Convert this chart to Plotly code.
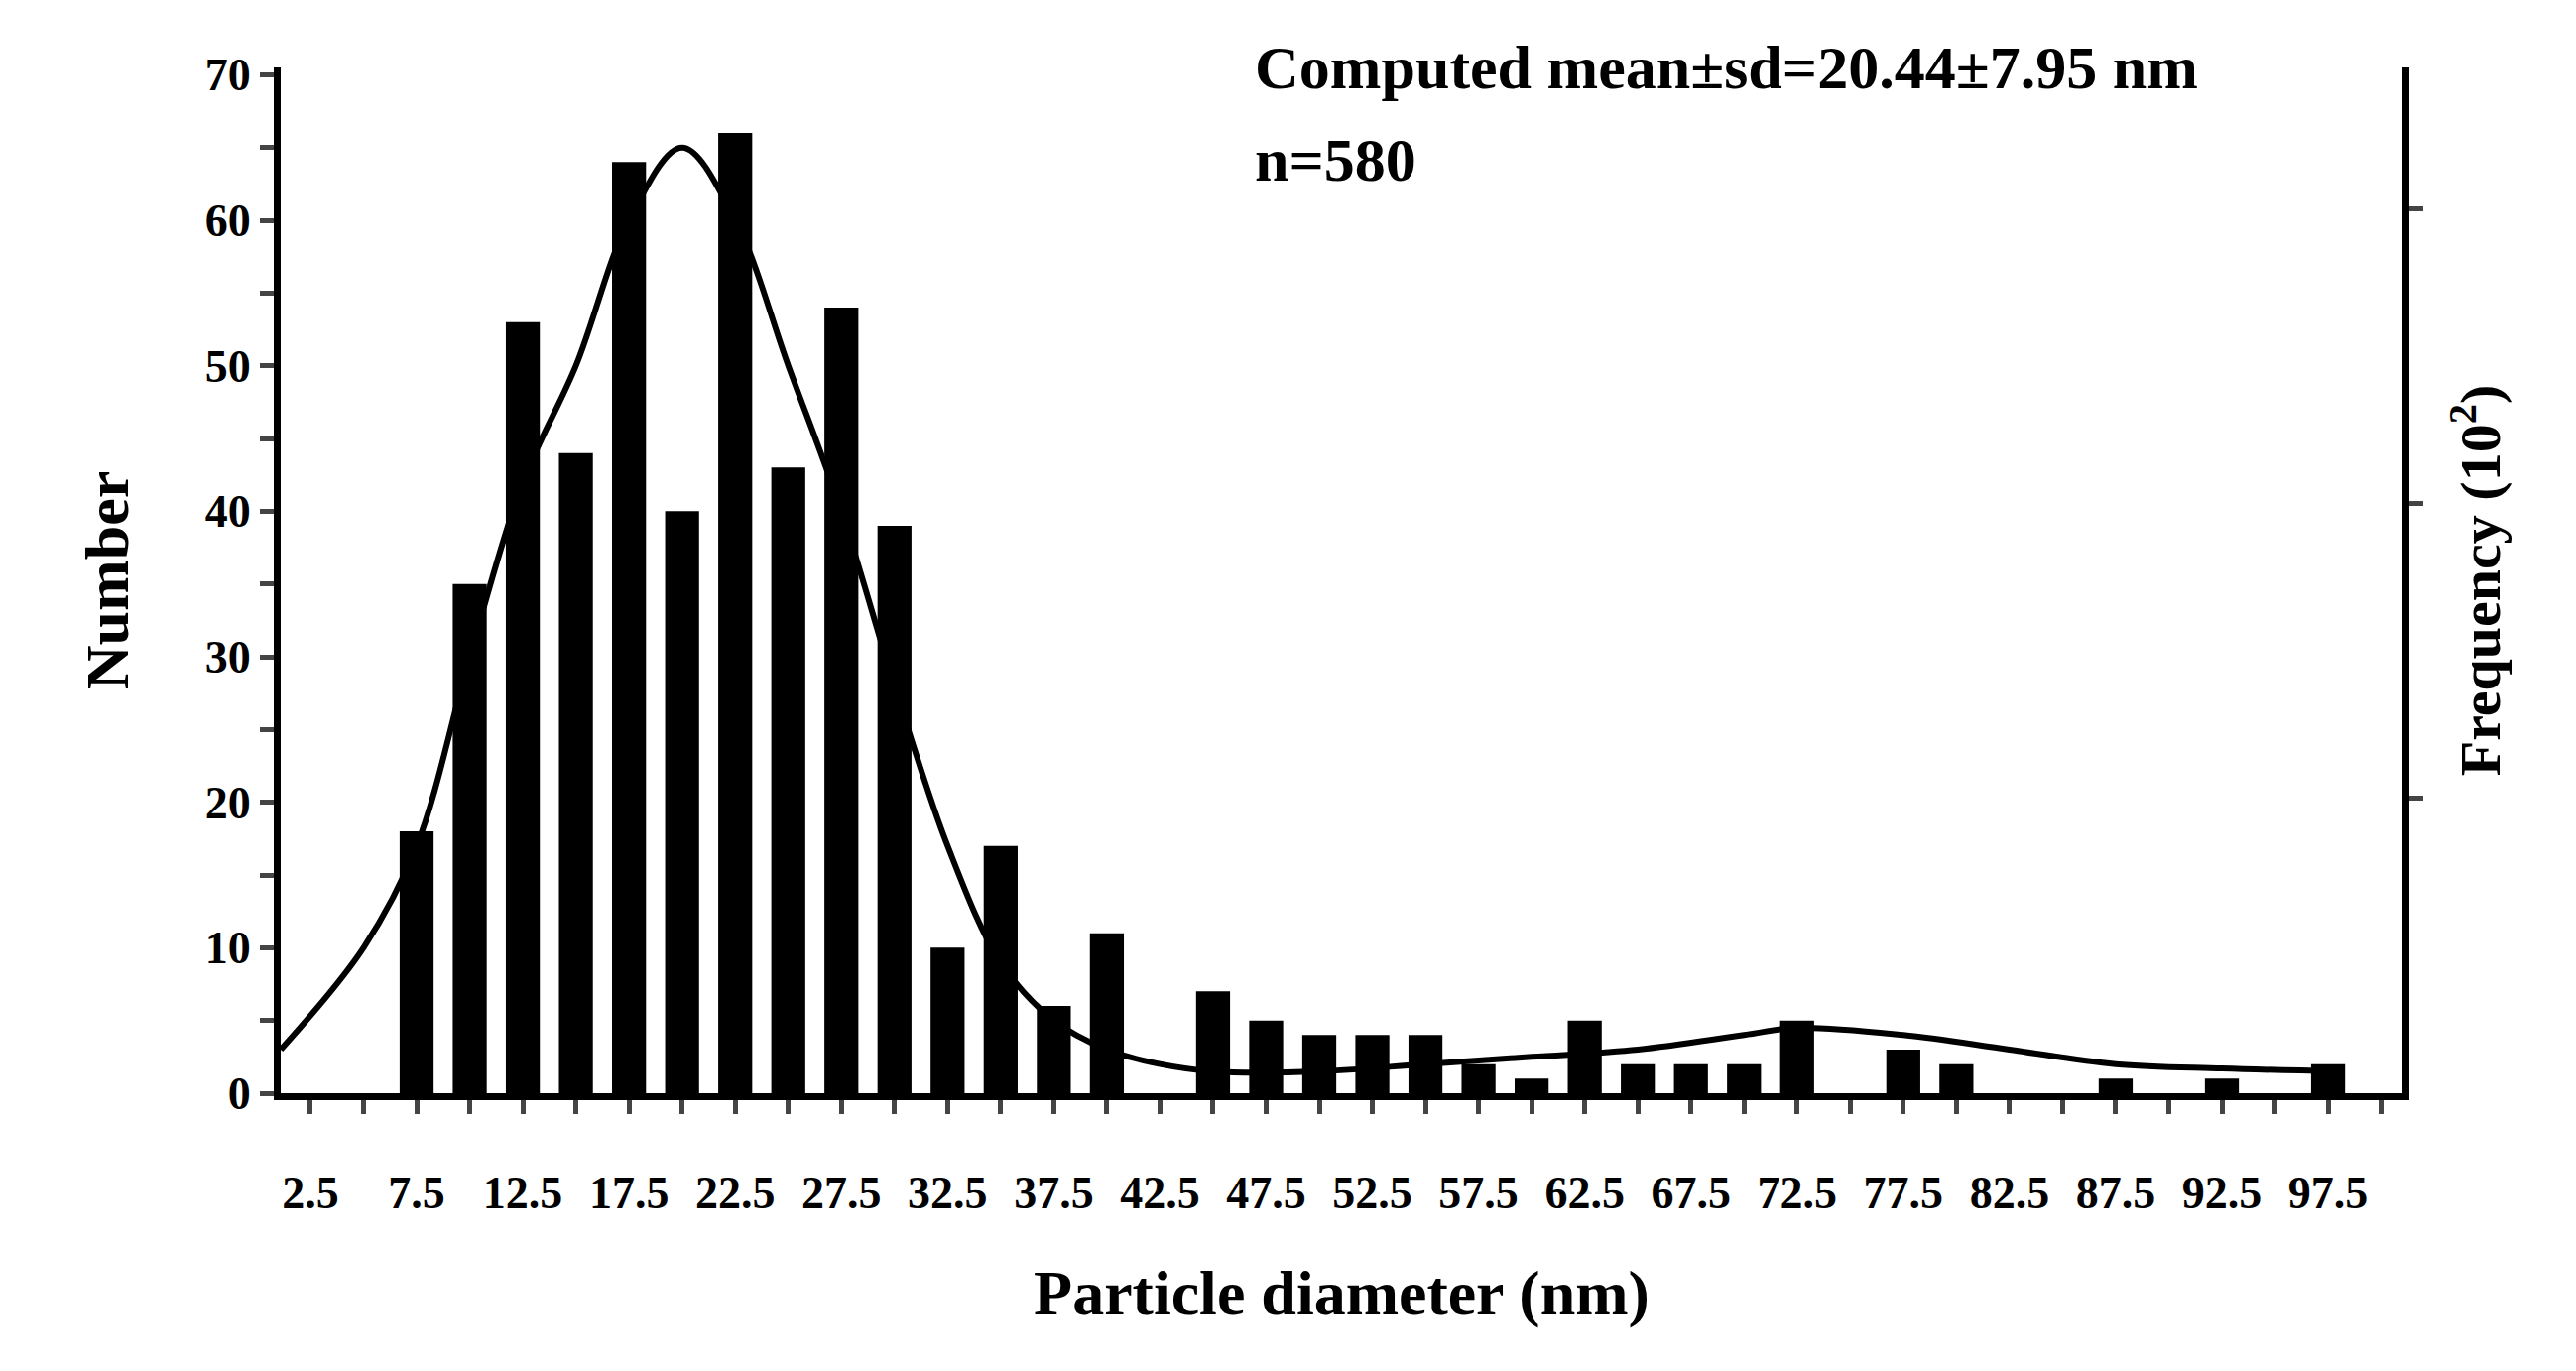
import plotly.graph_objects as go

diam = [7.5,10,12.5,15,17.5,20,22.5,25,27.5,30,32.5,35,37.5,40,42.5,45,47.5,50,52.5,55,57.5,60,62.5,65,67.5,70,72.5,75,77.5,80,82.5,85,87.5,90,92.5,95,97.5]
count = [18,35,53,44,64,40,66,43,54,39,10,17,6,11,0,7,5,4,4,4,2,1,5,2,2,2,5,0,3,2,0,0,1,0,1,0,2]
fit_x = [1.1,5,7.5,10,12.5,15,17.5,20,22.5,25,27.5,30,32.5,35,37.5,40,42.5,45,50,55,60,65,70,72.5,77.5,82.5,87.5,92.5,98]
fit_y = [3,10,17,30,42,50,60,65,60,50,40,28,17,9,5,3,2,1.5,1.5,2,2.5,3,4,4.5,4,3,2,1.7,1.5]
xtick_labels = [2.5+5*i for i in range(20)]

F = "Liberation Serif"
fig = go.Figure()
fig.add_bar(x=diam, y=count, width=1.6, marker=dict(color="black", line=dict(width=0)))
fig.add_scatter(x=fit_x, y=fit_y, mode="lines", line=dict(color="black", width=6, shape="spline", smoothing=1.0))
fig.add_scatter(x=[None], y=[None], yaxis="y2", showlegend=False)
fig.update_layout(
    width=2597, height=1382, showlegend=False, plot_bgcolor="white", paper_bgcolor="white",
    margin=dict(l=275, r=183, t=60, b=288),
    font=dict(family=F, color="black"),
    xaxis=dict(range=[1.1, 101], tickvals=xtick_labels, ticktext=[f"<b>{v:g}</b>" for v in xtick_labels],
               ticks="outside", ticklen=14, tickwidth=5, showline=True, linewidth=7, linecolor="black",
               showgrid=False, zeroline=False, ticklabelstandoff=40,
               tickfont=dict(size=46, family=F),
               minor=dict(dtick=2.5, tick0=2.5, ticks="outside", ticklen=14, tickwidth=5),
               title=dict(text="<b>Particle diameter (nm)</b>", font=dict(size=64), standoff=55)),
    yaxis=dict(range=[0, 70.5], tickvals=list(range(0, 71, 10)), ticktext=[f"<b>{v}</b>" for v in range(0, 71, 10)],
               ticks="outside", ticklen=14, tickwidth=5,
               showline=True, linewidth=7, linecolor="black", showgrid=False, zeroline=False,
               tickfont=dict(size=46, family=F),
               minor=dict(dtick=5, ticks="outside", ticklen=14, tickwidth=5),
               title=dict(text="<b>Number</b>", font=dict(size=62), standoff=60)),
    yaxis2=dict(overlaying="y", side="right", range=[0, 3.48], tickvals=[1, 2, 3], showticklabels=False,
                ticks="outside", ticklen=14, tickwidth=5, showline=True, linewidth=7, linecolor="black",
                showgrid=False, zeroline=False,
                title=dict(text="<b>Frequency (10<sup>2</sup>)</b>", font=dict(size=58), standoff=40)),
)
ax0 = (1255-275)/(2597-275-183)
fig.add_annotation(text="<b>Computed mean±sd=20.44±7.95 nm</b>", xref="paper", yref="paper",
                   x=ax0, y=1.0, xanchor="left", yanchor="middle", showarrow=False, font=dict(size=62))
fig.add_annotation(text="<b>n=580</b>", xref="paper", yref="paper",
                   x=ax0, y=0.91, xanchor="left", yanchor="middle", showarrow=False, font=dict(size=62))
fig.write_html("out.html")
